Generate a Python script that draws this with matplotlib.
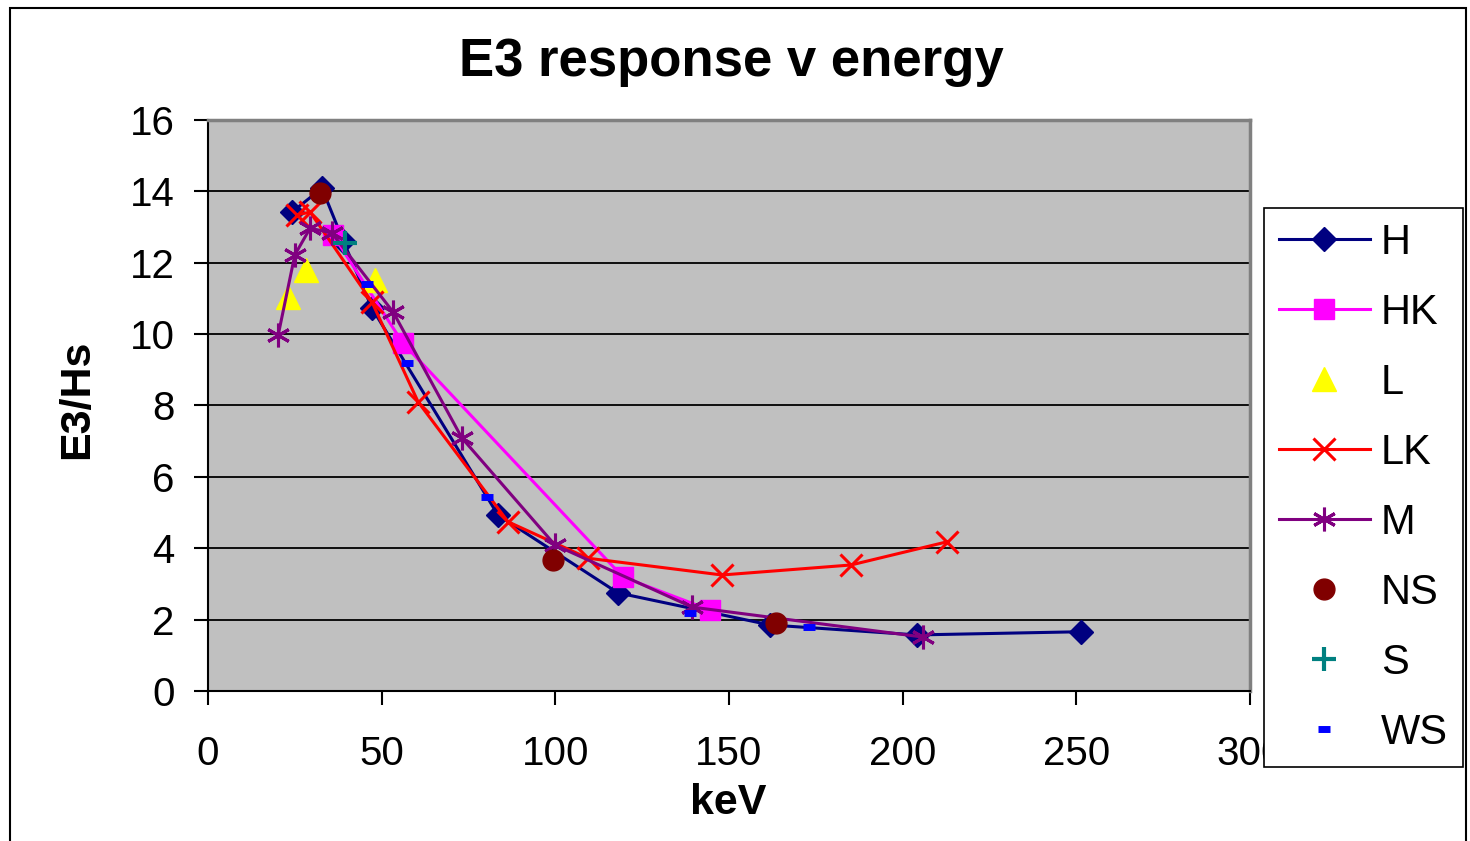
import matplotlib.pyplot as plt
from matplotlib.patches import Rectangle

plt.rcParams['font.family'] = ['Liberation Sans', 'DejaVu Sans']

# series (keV, E3/Hs)
h_x = [24.2, 32.8, 39.0, 47.2, 83.5, 118.0, 161.8, 204.1, 251.4]
h_y = [13.42, 14.09, 12.6, 10.73, 4.93, 2.75, 1.85, 1.57, 1.66]

hk_x = [36.0, 56.1, 119.5, 144.5]
hk_y = [12.78, 9.75, 3.19, 2.27]

l_x = [23.0, 28.2, 48.1]
l_y = [11.04, 11.8, 11.52]

lk_x = [25.6, 29.4, 47.2, 60.5, 86.4, 109.4, 148.0, 185.1, 212.8]
lk_y = [13.34, 13.42, 10.9, 8.1, 4.74, 3.72, 3.25, 3.53, 4.18]

m_x = [20.2, 25.0, 29.4, 35.7, 53.3, 73.1, 99.9, 139.4, 205.9]
m_y = [9.97, 12.22, 12.97, 12.83, 10.62, 7.09, 4.09, 2.35, 1.51]

ns_x = [32.2, 99.3, 163.5]
ns_y = [13.95, 3.67, 1.91]

s_x = [39.4]
s_y = [12.55]

ws_x = [45.7, 57.2, 80.3, 138.8, 173.0]
ws_y = [11.4, 9.19, 5.44, 2.18, 1.80]

x_ticks = [0, 50, 100, 150, 200, 250, 300]
y_ticks = [0, 2, 4, 6, 8, 10, 12, 14, 16]

fig = plt.figure(figsize=(14.7, 8.41), dpi=100)
ax = fig.add_axes([0.1415, 0.1784, 0.7088, 0.6789])
ax.set_facecolor('#C0C0C0')

lw = 2.2
ax.plot(h_x, h_y, color='#000080', lw=lw, marker='D', ms=12, label='H', zorder=3)
ax.plot(hk_x, hk_y, color='#FF00FF', lw=lw, marker='s', ms=15, label='HK', zorder=3)
ax.plot(l_x, l_y, color='#FFFF00', ls='none', marker='^', ms=17, label='L', zorder=3)
ax.plot(lk_x, lk_y, color='#FF0000', lw=lw, marker='x', ms=16, mew=2.2, label='LK', zorder=3)
ax.plot(m_x, m_y, color='#800080', lw=lw, marker=(6, 2, 0), ms=17, mew=2.2, label='M', zorder=3)
ax.plot(ns_x, ns_y, color='#800000', ls='none', marker='o', ms=15, label='NS', zorder=4)
ax.plot(s_x, s_y, color='#008080', ls='none', marker='+', ms=17, mew=3, label='S', zorder=4)
ax.plot(ws_x, ws_y, color='#0000FF', ls='none', marker='_', ms=9, mew=5, label='WS', zorder=4)

ax.set_xlim(0, 300)
ax.set_ylim(0, 16)
ax.set_xticks(x_ticks)
ax.set_yticks(y_ticks)
ax.tick_params(labelsize=29, direction='out', length=10, width=1.5)
ax.tick_params(axis='y', pad=14)
ax.tick_params(axis='x', pad=22)
ax.yaxis.grid(True, color='black', lw=1.3)
ax.set_axisbelow(True)
for side in ['top', 'right']:
    ax.spines[side].set_color('#808080')
    ax.spines[side].set_linewidth(2.5)
for side in ['left', 'bottom']:
    ax.spines[side].set_color('black')
    ax.spines[side].set_linewidth(1.5)

fig.text(731 / 1470, 1 - 76 / 841, 'E3 response v energy', fontsize=38,
         fontweight='bold', ha='center', va='baseline')
ax.set_xlabel('keV', fontsize=31, fontweight='bold')
ax.xaxis.set_label_coords(0.499, -0.162)
ax.set_ylabel('E3/Hs', fontsize=31, fontweight='bold')
ax.yaxis.set_label_coords(-0.1065, 0.51)

handles, labels = ax.get_legend_handles_labels()
leg = fig.legend(handles, labels, loc='upper left', bbox_to_anchor=(1264 / 1470, 1 - 208 / 841),
                 borderaxespad=0, fontsize=30, frameon=True, fancybox=False,
                 edgecolor='black', framealpha=1, handlelength=2.2, labelspacing=0.72,
                 borderpad=0.35, handletextpad=0.26)
leg.get_frame().set_linewidth(1.2)

# outer chart border
fig.patches.append(Rectangle((10 / 1470, -0.05), 1456 / 1470, 1.05 - 8 / 841,
                             transform=fig.transFigure, fill=False,
                             edgecolor='black', lw=1.5))

fig.savefig('out.png', dpi=100)
